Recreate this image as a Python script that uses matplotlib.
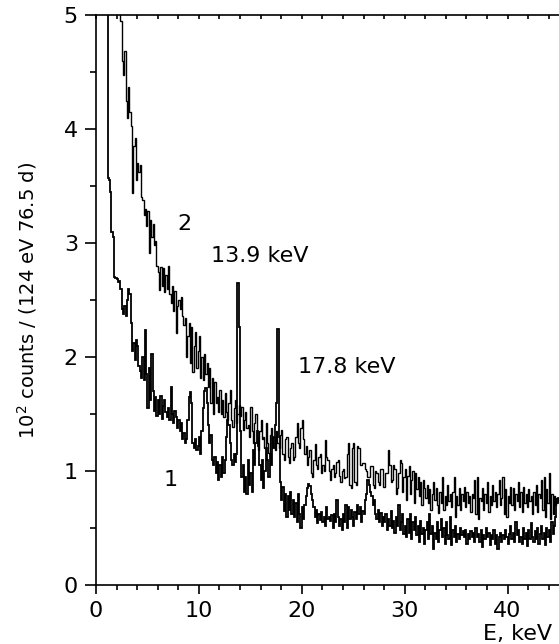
import matplotlib
matplotlib.use("Agg")
import matplotlib.pyplot as plt
import numpy as np
from matplotlib.ticker import MultipleLocator

plt.rcParams['font.family'] = ['DejaVu Sans']

# bin width of the re-binned spectra (keV)
bin_w = 0.125

# spectrum 1 (lower), one row per keV; first bins are off scale
spec1 = [9.0, 9.0, 9.0, 9.0, 9.0, 9.0, 9.0, 9.0,
         9.0, 3.57, 3.55, 3.45, 3.10, 3.05, 2.70, 2.69,
         2.68, 2.66, 2.67, 2.60, 2.42, 2.38, 2.45, 2.36,
         2.50, 2.60, 2.55, 2.30, 2.05, 2.12, 1.97, 2.15,
         2.10, 1.92, 1.88, 1.82, 2.00, 1.80, 2.24, 1.85,
         1.55, 1.90, 1.62, 2.03, 1.70, 1.53, 1.65, 1.48,
         1.62, 1.50, 1.66, 1.46, 1.57, 1.62, 1.52, 1.47,
         1.55, 1.45, 1.74, 1.50, 1.42, 1.53, 1.47, 1.38,
         1.45, 1.35, 1.42, 1.28, 1.33, 1.25, 1.28, 1.45,
         1.65, 1.69, 1.60, 1.25, 1.20, 1.28, 1.18, 1.22,
         1.30, 1.15, 1.35, 1.55, 1.70, 1.73, 1.60, 1.40,
         1.25, 1.32, 1.10, 1.05, 1.12, 0.98, 1.08, 0.92,
         1.05, 0.95, 1.12, 0.98, 1.10, 1.30, 1.45, 1.40,
         1.25, 1.10, 1.05, 1.15, 1.08, 1.15, 2.65, 2.26,
         1.35, 0.95, 1.05, 0.82, 0.95, 0.80, 1.10, 0.88,
         0.98, 0.82, 1.18, 1.05, 1.25, 1.35, 1.22, 1.05,
         0.92, 1.10, 0.85, 1.00, 1.20, 1.10, 0.95, 1.15,
         1.05, 1.30, 1.20, 1.40, 1.60, 2.25, 1.30, 0.90,
         0.75, 0.86, 0.65, 0.80, 0.60, 0.78, 0.66, 0.82,
         0.62, 0.75, 0.60, 0.72, 0.55, 0.80, 0.62, 0.50,
         0.68, 0.58, 0.70, 0.78, 0.85, 0.89, 0.87, 0.80,
         0.75, 0.68, 0.60, 0.66, 0.54, 0.62, 0.57, 0.64,
         0.55, 0.60, 0.52, 0.68, 0.58, 0.60, 0.56, 0.61,
         0.50, 0.62, 0.55, 0.75, 0.60, 0.52, 0.58, 0.48,
         0.62, 0.55, 0.70, 0.50, 0.68, 0.58, 0.66, 0.60,
         0.52, 0.64, 0.58, 0.70, 0.62, 0.68, 0.55, 0.65,
         0.62, 0.75, 0.80, 0.92, 0.88, 0.82, 0.78, 0.70,
         0.75, 0.62, 0.58, 0.66, 0.55, 0.63, 0.52, 0.60,
         0.55, 0.62, 0.48, 0.58, 0.52, 0.65, 0.50, 0.56,
         0.46, 0.60, 0.52, 0.70, 0.48, 0.55, 0.62, 0.45,
         0.52, 0.42, 0.58, 0.46, 0.62, 0.40, 0.55, 0.48,
         0.60, 0.44, 0.52, 0.38, 0.56, 0.45, 0.50, 0.36,
         0.48, 0.55, 0.40, 0.62, 0.45, 0.52, 0.32, 0.46,
         0.40, 0.55, 0.38, 0.48, 0.58, 0.42, 0.50, 0.36,
         0.55, 0.44, 0.40, 0.60, 0.35, 0.48, 0.42, 0.52,
         0.38, 0.45, 0.40, 0.50, 0.44, 0.47, 0.42, 0.48,
         0.36, 0.45, 0.40, 0.47, 0.42, 0.46, 0.38, 0.50,
         0.42, 0.45, 0.38, 0.48, 0.33, 0.44, 0.40, 0.50,
         0.42, 0.46, 0.35, 0.44, 0.40, 0.48, 0.36, 0.44,
         0.32, 0.42, 0.46, 0.38, 0.44, 0.40, 0.48, 0.42,
         0.36, 0.45, 0.52, 0.40, 0.46, 0.38, 0.55, 0.44,
         0.48, 0.38, 0.42, 0.36, 0.50, 0.40, 0.46, 0.34,
         0.48, 0.40, 0.54, 0.42, 0.38, 0.47, 0.40, 0.50,
         0.36, 0.45, 0.52, 0.40, 0.46, 0.35, 0.50, 0.42,
         0.48, 0.38, 0.55, 0.45, 0.52, 0.60, 0.72, 0.76]

# spectrum 2 (upper), one row per keV; first bins are off scale
spec2 = [9.0, 9.0, 9.0, 9.0, 9.0, 9.0, 9.0, 9.0,
         9.0, 9.0, 9.0, 9.0, 9.0, 9.0, 9.0, 9.0,
         9.0, 9.0, 9.0, 4.95, 4.60, 4.47, 4.68, 4.25,
         4.10, 4.37, 4.15, 4.03, 3.44, 3.85, 3.92, 3.55,
         3.70, 3.62, 3.68, 3.40, 3.38, 3.25, 3.30, 3.15,
         3.28, 2.91, 3.20, 3.05, 3.17, 2.98, 3.02, 2.80,
         2.75, 2.59, 2.79, 2.62, 2.78, 2.57, 2.72, 2.60,
         2.80, 2.55, 2.47, 2.62, 2.40, 2.58, 2.21, 2.45,
         2.50, 2.42, 2.53, 2.36, 2.28, 2.34, 2.00, 2.18,
         2.30, 1.95, 2.26, 1.87, 2.10, 2.22, 1.90, 2.05,
         2.18, 1.82, 2.00, 1.80, 2.03, 1.85, 1.95, 1.74,
         1.90, 1.60, 1.82, 1.50, 1.78, 1.60, 1.65, 1.52,
         1.71, 1.50, 1.62, 1.47, 1.68, 1.52, 1.45, 1.60,
         1.71, 1.45, 1.39, 1.55, 1.62, 1.42, 1.50, 1.58,
         1.48, 1.56, 1.36, 1.45, 1.52, 1.38, 1.40, 1.30,
         1.56, 1.35, 1.25, 1.42, 1.50, 1.30, 1.18, 1.35,
         1.45, 1.28, 1.30, 1.20, 1.42, 1.25, 1.16, 1.32,
         1.38, 1.22, 1.30, 1.18, 1.35, 1.25, 1.20, 1.32,
         1.36, 1.15, 1.10, 1.28, 1.30, 1.12, 1.07, 1.20,
         1.25, 1.10, 1.12, 1.30, 1.42, 1.25, 1.20, 1.38,
         1.45, 1.28, 1.15, 1.22, 1.05, 1.12, 1.18, 0.98,
         0.95, 1.10, 1.24, 1.05, 1.02, 1.12, 1.15, 0.98,
         1.05, 1.00, 1.27, 1.12, 1.10, 1.00, 0.92, 1.02,
         1.05, 0.95, 0.98, 1.08, 1.10, 0.96, 0.90, 1.00,
         1.02, 0.94, 0.95, 1.15, 1.25, 0.88, 0.85, 1.20,
         1.25, 0.90, 0.88, 1.22, 1.20, 1.05, 1.05, 1.07,
         1.07, 1.02, 1.00, 0.95, 0.95, 1.04, 1.04, 0.88,
         0.85, 1.00, 0.98, 0.90, 0.88, 1.02, 1.02, 0.86,
         0.86, 0.98, 0.98, 1.18, 1.05, 0.90, 0.92, 1.05,
         1.02, 0.80, 0.85, 0.98, 1.10, 1.07, 0.82, 0.95,
         1.02, 0.75, 0.96, 1.04, 0.80, 0.92, 1.00, 0.72,
         0.98, 0.84, 0.95, 0.78, 0.90, 0.70, 0.92, 0.85,
         0.76, 0.88, 0.72, 0.84, 0.66, 0.80, 0.90, 0.75,
         0.85, 0.70, 0.63, 0.82, 0.72, 0.95, 0.66, 0.78,
         0.70, 0.88, 0.74, 0.80, 0.68, 0.82, 0.95, 0.60,
         0.78, 0.70, 0.85, 0.66, 0.80, 0.74, 0.86, 0.68,
         0.82, 0.72, 0.78, 0.64, 0.80, 0.76, 0.92, 0.62,
         0.95, 0.58, 0.76, 0.74, 0.85, 0.66, 0.80, 0.72,
         0.90, 0.64, 0.78, 0.70, 0.88, 0.74, 0.82, 0.68,
         0.80, 0.92, 0.70, 0.76, 0.95, 0.62, 0.84, 0.60,
         0.78, 0.72, 0.86, 0.70, 0.85, 0.66, 0.80, 0.74,
         0.90, 0.68, 0.82, 0.64, 0.86, 0.72, 0.80, 0.68,
         0.84, 0.74, 0.78, 0.62, 0.82, 0.70, 0.88, 0.64,
         0.80, 0.76, 0.92, 0.66, 0.95, 0.60, 0.84, 0.72,
         0.98, 0.58, 0.80, 0.62, 0.78, 0.70, 0.76, 0.74]

edges1 = np.arange(len(spec1) + 1) * bin_w
edges2 = np.arange(len(spec2) + 1) * bin_w

fig = plt.figure(figsize=(5.59, 6.44), dpi=100)
ax = fig.add_axes([0.1717, 0.0916, 0.8283, 0.8851])

ax.stairs(spec1, edges1, baseline=None, color='black', lw=1.3)
ax.stairs(spec2, edges2, baseline=None, color='black', lw=1.0)

ax.set_xlim(0, 45)
ax.set_ylim(0, 5)

ax.xaxis.set_major_locator(MultipleLocator(10))
ax.xaxis.set_minor_locator(MultipleLocator(2))
ax.yaxis.set_major_locator(MultipleLocator(1))
ax.yaxis.set_minor_locator(MultipleLocator(0.5))

ax.tick_params(which='both', direction='out', width=1.2, labelsize=16)
ax.tick_params(axis='x', which='major', length=6.7, pad=4.5)
ax.tick_params(axis='x', which='minor', length=3.6)
ax.tick_params(axis='y', which='major', length=8, pad=5)
ax.tick_params(axis='y', which='minor', length=4)
ax.tick_params(axis='x', which='both', top=True, labeltop=False)
for t in ax.xaxis.get_major_ticks() + ax.xaxis.get_minor_ticks():
    t.tick2line.set_marker(3)
    t.tick2line.set_markersize(3)

ax.spines['right'].set_visible(False)
for s in ['left', 'bottom', 'top']:
    ax.spines[s].set_linewidth(1.2)

ax.set_ylabel('10$^2$ counts / (124 eV 76.5 d)', fontsize=14)
ax.yaxis.set_label_coords(-0.123, 0.5)
ax.text(0.985, -0.086, 'E, keV', transform=ax.transAxes, ha='right', va='center', fontsize=16)

ax.text(8.6, 3.17, '2', ha='center', va='center', fontsize=16)
ax.text(7.3, 0.92, '1', ha='center', va='center', fontsize=16)
ax.text(11.2, 2.89, '13.9 keV', ha='left', va='center', fontsize=16)
ax.text(19.6, 1.91, '17.8 keV', ha='left', va='center', fontsize=16)

fig.savefig('out.png', dpi=100)
